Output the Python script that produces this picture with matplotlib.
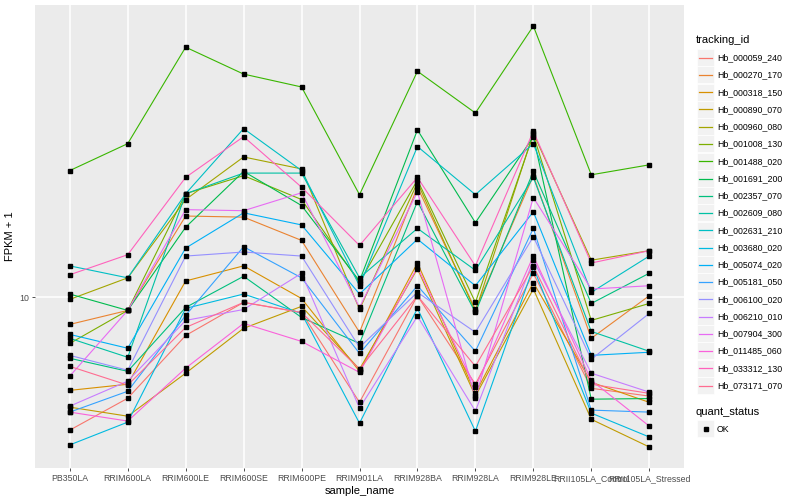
import matplotlib
matplotlib.use("Agg")
import matplotlib.pyplot as plt
from matplotlib.lines import Line2D
from matplotlib.patches import Rectangle

plt.rcParams['font.family'] = ['Liberation Sans', 'DejaVu Sans']

# sample names (x axis categories)
samples = ['PB350LA', 'RRIM600LA', 'RRIM600LE', 'RRIM600SE', 'RRIM600PE',
           'RRIM901LA', 'RRIM928BA', 'RRIM928LA', 'RRIM928LE',
           'RRII105LA_Control', 'RRII105LA_Stressed']

tracking_ids = ['Hb_000059_240', 'Hb_000270_170', 'Hb_000318_150', 'Hb_000890_070',
                'Hb_000960_080', 'Hb_001008_130', 'Hb_001488_020', 'Hb_001691_200',
                'Hb_002357_070', 'Hb_002609_080', 'Hb_002631_210', 'Hb_003680_020',
                'Hb_005074_020', 'Hb_005181_050', 'Hb_006100_020', 'Hb_006210_010',
                'Hb_007904_300', 'Hb_011485_060', 'Hb_033312_130', 'Hb_073171_070']

# FPKM + 1 per gene, one value per sample
hb_000059_240 = [4.65, 5.59, 8.03, 9.72, 9.17, 5.46, 10.1, 6.06, 11.5, 5.92, 5.66]
hb_000270_170 = [8.56, 9.28, 16.0, 15.9, 13.9, 8.18, 18.9, 9.33, 20.2, 7.90, 10.1]
hb_000318_150 = [5.85, 6.06, 11.0, 12.0, 9.94, 6.53, 12.2, 5.75, 10.9, 6.13, 5.46]
hb_000890_070 = [5.31, 5.04, 6.46, 8.37, 9.50, 6.61, 11.8, 5.66, 10.5, 4.95, 4.22]
hb_000960_080 = [9.89, 11.2, 17.6, 22.5, 21.0, 9.33, 19.4, 9.23, 25.8, 12.4, 13.1]
hb_001008_130 = [7.67, 9.28, 18.2, 20.2, 17.6, 10.9, 19.7, 9.72, 25.6, 8.76, 9.66]
hb_001488_020 = [20.8, 24.3, 42.4, 36.3, 33.7, 18.1, 36.9, 29.0, 47.9, 20.3, 21.5]
hb_001691_200 = [10.2, 9.28, 15.0, 20.7, 17.0, 11.0, 26.3, 15.4, 25.3, 5.56, 5.58]
hb_002357_070 = [7.04, 6.53, 9.44, 11.3, 8.91, 7.67, 17.4, 9.17, 20.7, 9.66, 11.5]
hb_002609_080 = [7.90, 7.08, 18.2, 20.5, 20.5, 11.2, 14.9, 11.7, 20.0, 8.22, 7.33]
hb_002631_210 = [12.0, 11.2, 18.2, 26.5, 20.8, 10.7, 23.9, 18.1, 24.3, 10.3, 12.7]
hb_003680_020 = [4.27, 4.87, 9.39, 10.2, 9.12, 4.84, 9.39, 4.62, 11.9, 5.13, 4.47]
hb_005074_020 = [8.08, 7.46, 13.3, 16.3, 15.2, 10.2, 14.0, 10.7, 16.4, 7.16, 7.29]
hb_005181_050 = [5.16, 5.82, 9.02, 13.4, 11.2, 7.24, 10.7, 7.33, 14.9, 5.22, 5.16]
hb_006100_020 = [7.16, 6.57, 12.7, 13.0, 12.7, 7.50, 10.3, 8.18, 14.2, 7.00, 9.12]
hb_006210_010 = [5.34, 6.17, 8.76, 9.33, 11.5, 5.28, 8.97, 5.19, 12.4, 6.46, 5.79]
hb_007904_300 = [6.35, 9.28, 16.6, 16.5, 18.3, 9.44, 18.4, 5.59, 17.8, 10.5, 10.7]
hb_011485_060 = [5.16, 4.90, 6.65, 8.61, 7.76, 6.49, 11.9, 5.96, 12.7, 6.20, 4.76]
hb_033312_130 = [11.4, 12.8, 20.0, 25.3, 18.9, 13.5, 20.0, 12.0, 26.1, 12.2, 13.1]
hb_073171_070 = [6.72, 6.03, 8.41, 9.72, 9.17, 6.61, 10.1, 6.72, 12.0, 6.06, 5.75]

series = [hb_000059_240, hb_000270_170, hb_000318_150, hb_000890_070, hb_000960_080,
          hb_001008_130, hb_001488_020, hb_001691_200, hb_002357_070, hb_002609_080,
          hb_002631_210, hb_003680_020, hb_005074_020, hb_005181_050, hb_006100_020,
          hb_006210_010, hb_007904_300, hb_011485_060, hb_033312_130, hb_073171_070]

# ggplot default hue palette for 20 groups
colors = ['#F8766D', '#EA8331', '#D89000', '#C09B00', '#A3A500', '#7CAE00', '#39B600',
          '#00BB4E', '#00BF7D', '#00C1A3', '#00BFC4', '#00BAE0', '#00B0F6', '#35A2FF',
          '#9590FF', '#C77CFF', '#E76BF3', '#FA62DB', '#FF62BC', '#FF6C91']

W, H = 800, 500
fig = plt.figure(figsize=(8, 5), dpi=100)
ax = fig.add_axes([35 / W, 1 - 468 / H, (684 - 35) / W, (468 - 5) / H])
ax.set_facecolor('#EBEBEB')

xs = list(range(len(samples)))
for vals, c in zip(series, colors):
    ax.plot(xs, vals, color=c, lw=0.8, zorder=2)
for vals in series:
    ax.plot(xs, vals, ls='none', marker='s', ms=2.2, color='black', zorder=3)

ax.set_yscale('log')
ax.set_xlim(-0.6, len(samples) - 0.4)
ax.set_yticks([10])
ax.set_yticklabels(['10'])
ax.minorticks_off()
ax.set_xticks(xs)
ax.set_xticklabels(samples)
ax.grid(True, color='white', lw=1.1, zorder=0)
ax.set_axisbelow(True)
for s in ax.spines.values():
    s.set_visible(False)
ax.tick_params(colors='#333333', length=2.5, width=0.6, labelsize=6.3, pad=2)
for lab in ax.get_xticklabels() + ax.get_yticklabels():
    lab.set_color('#4D4D4D')
ax.set_xlabel('sample_name', fontsize=8, labelpad=2)
ax.set_ylabel('FPKM + 1', fontsize=8, labelpad=3)

# legend drawn by hand (ggplot style keys)
def fx(px):
    return px / W

def fy(py):
    return 1 - py / H

fig.text(fx(696), fy(40), 'tracking_id', fontsize=8, va='center', ha='left')
for i, (name, c) in enumerate(zip(tracking_ids, colors)):
    cy = 57.7 + i * 17.26
    fig.add_artist(Rectangle((fx(697), fy(cy + 8.3)), 17 / W, 17 / H,
                             transform=fig.transFigure, facecolor='#F2F2F2',
                             edgecolor='white', lw=0.5))
    fig.add_artist(Line2D([fx(699), fx(712)], [fy(cy), fy(cy)],
                          transform=fig.transFigure, color=c, lw=0.9))
    fig.text(fx(717), fy(cy), name, fontsize=6.3, va='center', ha='left')

fig.text(fx(696), fy(412), 'quant_status', fontsize=8, va='center', ha='left')
fig.add_artist(Rectangle((fx(697), fy(429 + 8.3)), 17 / W, 17 / H,
                         transform=fig.transFigure, facecolor='#F2F2F2',
                         edgecolor='white', lw=0.5))
fig.add_artist(Line2D([fx(705.5)], [fy(429)], transform=fig.transFigure,
                      ls='none', marker='s', ms=2.2, color='black'))
fig.text(fx(717), fy(429), 'OK', fontsize=6.3, va='center', ha='left')

fig.savefig('out.png', dpi=100)
